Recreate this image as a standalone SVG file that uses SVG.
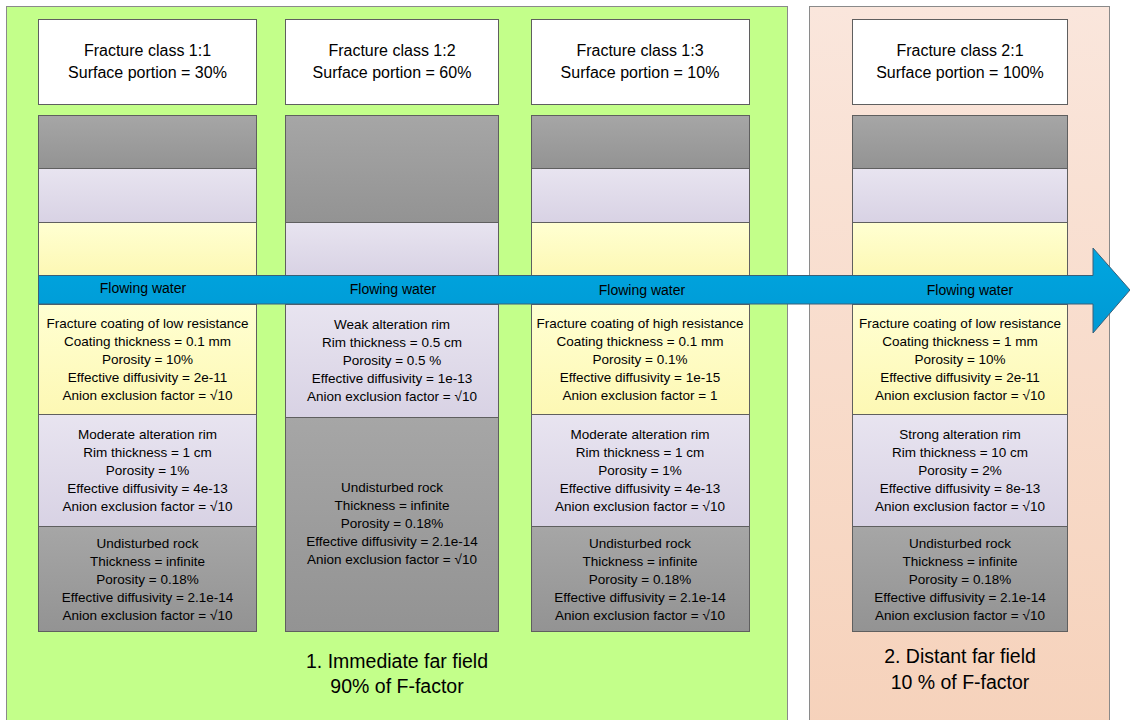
<svg xmlns="http://www.w3.org/2000/svg" width="1130" height="720" viewBox="0 0 1130 720">
<defs>
<linearGradient id="gGray" x1="0" y1="0" x2="0" y2="1"><stop offset="0" stop-color="#a6a6a6"/><stop offset="1" stop-color="#939393"/></linearGradient>
<linearGradient id="gLav" x1="0" y1="0" x2="0" y2="1"><stop offset="0" stop-color="#e8e4f0"/><stop offset="1" stop-color="#d8d2e4"/></linearGradient>
<linearGradient id="gYel" x1="0" y1="0" x2="0" y2="1"><stop offset="0" stop-color="#ffffd2"/><stop offset="1" stop-color="#fdf8b4"/></linearGradient>
<linearGradient id="gPink" x1="0" y1="0" x2="0" y2="1"><stop offset="0" stop-color="#fae6dc"/><stop offset="1" stop-color="#f6d2bb"/></linearGradient>
<linearGradient id="gBlue" x1="0" y1="0" x2="0" y2="1"><stop offset="0" stop-color="#00a6e0"/><stop offset="1" stop-color="#0099d4"/></linearGradient>
<style>
.box{stroke:#5f5f5f;stroke-width:1}
.white{fill:#ffffff}
.gray{fill:url(#gGray)}
.lav{fill:url(#gLav)}
.yel{fill:url(#gYel)}
text{font-family:"Liberation Sans",Arial,sans-serif;fill:#000;text-anchor:middle}
.h{font-size:16px}
.t{font-size:13.5px}
.w{font-size:14px}
.b{font-size:19.5px}
</style>
</defs>
<rect x="0" y="0" width="1130" height="720" fill="#ffffff"/>
<g id="panel-immediate">
<rect x="6.5" y="6.5" width="781" height="720" fill="#c3ff8a" stroke="#8a8a8a" stroke-width="1"/>
<text class="b" x="397" y="668">1. Immediate far field</text>
<text class="b" x="397" y="693">90% of F-factor</text>
</g>
<g id="panel-distant">
<rect x="809.5" y="6.5" width="300" height="720" fill="url(#gPink)" stroke="#8a8a8a" stroke-width="1"/>
<text class="b" x="960" y="663">2. Distant far field</text>
<text class="b" x="960" y="689">10 % of F-factor</text>
</g>
<g id="class-1-1">
<rect class="box white" x="38.5" y="19.5" width="218" height="85"/>
<text class="h" x="147.5" y="56">Fracture class 1:1</text>
<text class="h" x="147.5" y="78">Surface portion = 30%</text>
<rect class="box gray" x="38.5" y="115.5" width="218" height="53"/>
<rect class="box lav" x="38.5" y="168.5" width="218" height="54"/>
<rect class="box yel" x="38.5" y="222.5" width="218" height="53"/>
<rect class="box yel" x="38.5" y="304.5" width="218" height="110"/>
<text class="t" x="147.5" y="328">Fracture coating of low resistance</text>
<text class="t" x="147.5" y="346">Coating thickness = 0.1 mm</text>
<text class="t" x="147.5" y="364">Porosity = 10%</text>
<text class="t" x="147.5" y="382">Effective diffusivity = 2e-11</text>
<text class="t" x="147.5" y="400">Anion exclusion factor = √10</text>
<rect class="box lav" x="38.5" y="414.5" width="218" height="112"/>
<text class="t" x="147.5" y="439">Moderate alteration rim</text>
<text class="t" x="147.5" y="457">Rim thickness = 1 cm</text>
<text class="t" x="147.5" y="475">Porosity = 1%</text>
<text class="t" x="147.5" y="493">Effective diffusivity = 4e-13</text>
<text class="t" x="147.5" y="511">Anion exclusion factor = √10</text>
<rect class="box gray" x="38.5" y="526.5" width="218" height="105"/>
<text class="t" x="147.5" y="548">Undisturbed rock</text>
<text class="t" x="147.5" y="566">Thickness = infinite</text>
<text class="t" x="147.5" y="584">Porosity = 0.18%</text>
<text class="t" x="147.5" y="602">Effective diffusivity = 2.1e-14</text>
<text class="t" x="147.5" y="620">Anion exclusion factor = √10</text>
</g>
<g id="class-1-2">
<rect class="box white" x="285.5" y="19.5" width="213" height="85"/>
<text class="h" x="392" y="56">Fracture class 1:2</text>
<text class="h" x="392" y="78">Surface portion = 60%</text>
<rect class="box gray" x="285.5" y="115.5" width="213" height="107"/>
<rect class="box lav" x="285.5" y="222.5" width="213" height="53"/>
<rect class="box lav" x="285.5" y="304.5" width="213" height="113"/>
<text class="t" x="392" y="329">Weak alteration rim</text>
<text class="t" x="392" y="347">Rim thickness = 0.5 cm</text>
<text class="t" x="392" y="365">Porosity = 0.5 %</text>
<text class="t" x="392" y="383">Effective diffusivity = 1e-13</text>
<text class="t" x="392" y="401">Anion exclusion factor = √10</text>
<rect class="box gray" x="285.5" y="417.5" width="213" height="214"/>
<text class="t" x="392" y="492">Undisturbed rock</text>
<text class="t" x="392" y="510">Thickness = infinite</text>
<text class="t" x="392" y="528">Porosity = 0.18%</text>
<text class="t" x="392" y="546">Effective diffusivity = 2.1e-14</text>
<text class="t" x="392" y="564">Anion exclusion factor = √10</text>
</g>
<g id="class-1-3">
<rect class="box white" x="531.5" y="19.5" width="218" height="85"/>
<text class="h" x="640" y="56">Fracture class 1:3</text>
<text class="h" x="640" y="78">Surface portion = 10%</text>
<rect class="box gray" x="531.5" y="115.5" width="218" height="53"/>
<rect class="box lav" x="531.5" y="168.5" width="218" height="54"/>
<rect class="box yel" x="531.5" y="222.5" width="218" height="53"/>
<rect class="box yel" x="531.5" y="304.5" width="218" height="110"/>
<text class="t" x="640" y="328">Fracture coating of high resistance</text>
<text class="t" x="640" y="346">Coating thickness = 0.1 mm</text>
<text class="t" x="640" y="364">Porosity = 0.1%</text>
<text class="t" x="640" y="382">Effective diffusivity = 1e-15</text>
<text class="t" x="640" y="400">Anion exclusion factor = 1</text>
<rect class="box lav" x="531.5" y="414.5" width="218" height="112"/>
<text class="t" x="640" y="439">Moderate alteration rim</text>
<text class="t" x="640" y="457">Rim thickness = 1 cm</text>
<text class="t" x="640" y="475">Porosity = 1%</text>
<text class="t" x="640" y="493">Effective diffusivity = 4e-13</text>
<text class="t" x="640" y="511">Anion exclusion factor = √10</text>
<rect class="box gray" x="531.5" y="526.5" width="218" height="105"/>
<text class="t" x="640" y="548">Undisturbed rock</text>
<text class="t" x="640" y="566">Thickness = infinite</text>
<text class="t" x="640" y="584">Porosity = 0.18%</text>
<text class="t" x="640" y="602">Effective diffusivity = 2.1e-14</text>
<text class="t" x="640" y="620">Anion exclusion factor = √10</text>
</g>
<g id="class-2-1">
<rect class="box white" x="852.5" y="19.5" width="215" height="85"/>
<text class="h" x="960" y="56">Fracture class 2:1</text>
<text class="h" x="960" y="78">Surface portion = 100%</text>
<rect class="box gray" x="852.5" y="115.5" width="215" height="53"/>
<rect class="box lav" x="852.5" y="168.5" width="215" height="54"/>
<rect class="box yel" x="852.5" y="222.5" width="215" height="53"/>
<rect class="box yel" x="852.5" y="304.5" width="215" height="110"/>
<text class="t" x="960" y="328">Fracture coating of low resistance</text>
<text class="t" x="960" y="346">Coating thickness = 1 mm</text>
<text class="t" x="960" y="364">Porosity = 10%</text>
<text class="t" x="960" y="382">Effective diffusivity = 2e-11</text>
<text class="t" x="960" y="400">Anion exclusion factor = √10</text>
<rect class="box lav" x="852.5" y="414.5" width="215" height="112"/>
<text class="t" x="960" y="439">Strong alteration rim</text>
<text class="t" x="960" y="457">Rim thickness = 10 cm</text>
<text class="t" x="960" y="475">Porosity = 2%</text>
<text class="t" x="960" y="493">Effective diffusivity = 8e-13</text>
<text class="t" x="960" y="511">Anion exclusion factor = √10</text>
<rect class="box gray" x="852.5" y="526.5" width="215" height="105"/>
<text class="t" x="960" y="548">Undisturbed rock</text>
<text class="t" x="960" y="566">Thickness = infinite</text>
<text class="t" x="960" y="584">Porosity = 0.18%</text>
<text class="t" x="960" y="602">Effective diffusivity = 2.1e-14</text>
<text class="t" x="960" y="620">Anion exclusion factor = √10</text>
</g>
<g id="connectors">
<path d="M38.5,275.5 H1093 V248 L1130,290 L1093,333 V304 H38.5 Z" fill="url(#gBlue)" stroke="#3a5f78" stroke-width="1"/>
<text class="w" x="143" y="293">Flowing water</text>
<text class="w" x="393" y="294">Flowing water</text>
<text class="w" x="642" y="295">Flowing water</text>
<text class="w" x="970" y="295">Flowing water</text>
</g>
</svg>
